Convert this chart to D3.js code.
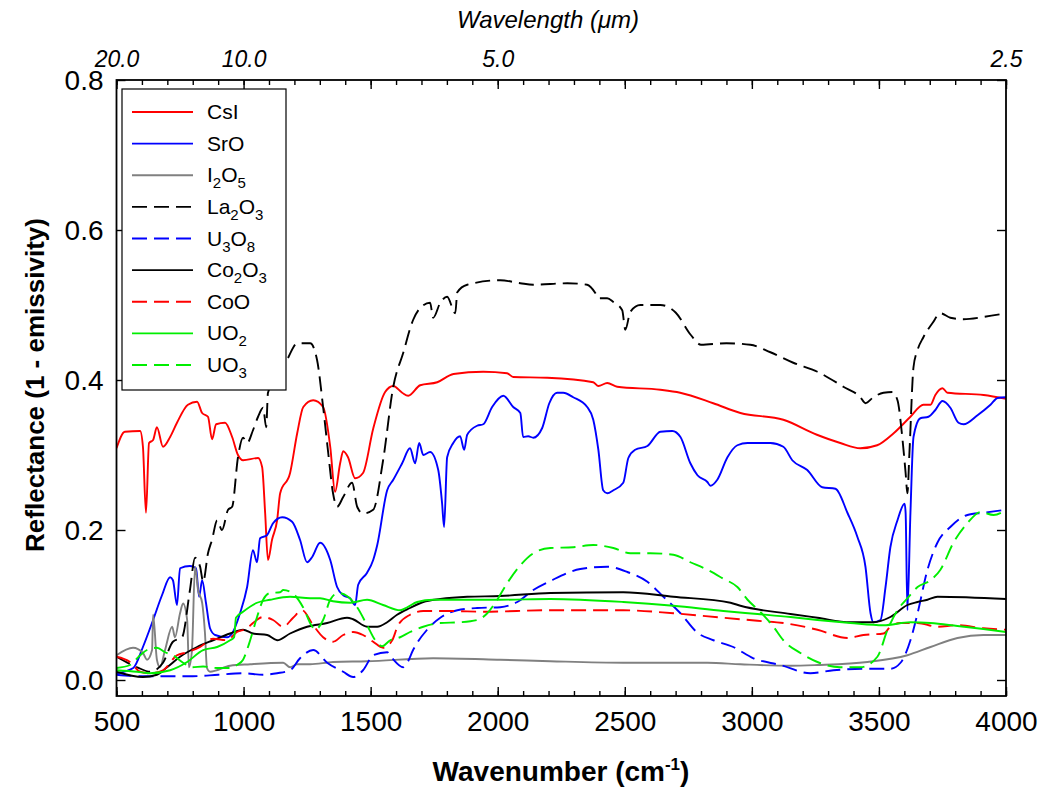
<!DOCTYPE html>
<html><head><meta charset="utf-8">
<script src="https://cdn.jsdelivr.net/npm/d3@7"></script>
<style>body{margin:0;background:#fff}svg{display:block}text{font-family:"Liberation Sans",Arial,sans-serif}</style>
</head><body>
<svg id="c" width="1041" height="790"></svg>
<script>
// ---- data: [wavenumber cm-1, reflectance] ----
const CsI = [[500,0.309],[533,0.331],[593,0.332],[604,0.311],[616,0.223],[628,0.316],[644,0.32],[659,0.337],[683,0.311],[711,0.324],[738,0.343],[781,0.367],[817,0.371],[837,0.356],[860,0.351],[876,0.321],[892,0.341],[927,0.343],[955,0.324],[978,0.30],[998,0.293],[1057,0.296],[1073,0.284],[1085,0.222],[1096,0.16],[1112,0.187],[1132,0.213],[1144,0.249],[1183,0.276],[1211,0.329],[1235,0.364],[1274,0.373],[1313,0.364],[1341,0.311],[1360,0.251],[1380,0.289],[1392,0.305],[1411,0.297],[1439,0.269],[1470,0.276],[1510,0.335],[1557,0.384],[1589,0.392],[1624,0.383],[1648,0.379],[1695,0.393],[1762,0.397],[1826,0.408],[1943,0.411],[2037,0.409],[2061,0.404],[2195,0.403],[2376,0.397],[2396,0.392],[2431,0.396],[2470,0.391],[2640,0.387],[2718,0.383],[2848,0.369],[2955,0.356],[3124,0.347],[3256,0.327],[3348,0.316],[3427,0.309],[3493,0.313],[3558,0.329],[3624,0.351],[3675,0.367],[3703,0.367],[3722,0.38],[3750,0.389],[3770,0.383],[3912,0.38],[4000,0.375]];
const SrO = [[500,0.009],[566,0.016],[604,0.044],[644,0.08],[679,0.113],[711,0.137],[722,0.133],[738,0.10],[750,0.149],[789,0.152],[813,0.149],[825,0.111],[837,0.133],[852,0.103],[868,0.069],[888,0.06],[935,0.057],[955,0.062],[986,0.089],[1014,0.124],[1037,0.173],[1053,0.157],[1065,0.189],[1092,0.193],[1116,0.209],[1152,0.217],[1191,0.211],[1222,0.187],[1250,0.157],[1270,0.164],[1301,0.183],[1341,0.16],[1368,0.124],[1392,0.113],[1419,0.109],[1439,0.1],[1451,0.127],[1486,0.143],[1510,0.16],[1526,0.18],[1565,0.253],[1589,0.267],[1624,0.289],[1655,0.309],[1675,0.289],[1691,0.316],[1707,0.3],[1734,0.304],[1766,0.28],[1781,0.236],[1789,0.204],[1801,0.297],[1825,0.316],[1852,0.325],[1868,0.307],[1880,0.327],[1919,0.339],[1943,0.341],[1978,0.364],[2022,0.379],[2061,0.364],[2089,0.356],[2100,0.324],[2120,0.325],[2140,0.323],[2175,0.336],[2203,0.369],[2234,0.383],[2258,0.383],[2297,0.377],[2352,0.364],[2376,0.347],[2396,0.307],[2415,0.253],[2431,0.249],[2455,0.253],[2494,0.263],[2514,0.296],[2541,0.307],[2589,0.312],[2640,0.331],[2687,0.332],[2719,0.324],[2758,0.289],[2786,0.273],[2825,0.264],[2837,0.259],[2864,0.267],[2904,0.297],[2943,0.313],[2983,0.316],[3073,0.316],[3124,0.311],[3159,0.293],[3218,0.28],[3277,0.257],[3329,0.255],[3376,0.223],[3415,0.191],[3447,0.151],[3467,0.089],[3478,0.077],[3506,0.08],[3526,0.124],[3545,0.177],[3573,0.213],[3601,0.235],[3605,0.223],[3612,0.093],[3624,0.223],[3636,0.324],[3663,0.349],[3695,0.351],[3722,0.36],[3750,0.372],[3781,0.363],[3813,0.343],[3833,0.341],[3888,0.353],[3939,0.367],[3967,0.376],[4000,0.377]];
const I2O5 = [[500,0.033],[565,0.043],[604,0.036],[620,0.027],[640,0.04],[644,0.087],[659,0.027],[671,0.017],[691,0.04],[719,0.071],[730,0.057],[750,0.089],[762,0.102],[778,0.08],[785,0.017],[797,0.04],[809,0.151],[821,0.12],[837,0.103],[848,0.063],[856,0.016],[868,0.011],[947,0.019],[1026,0.021],[1156,0.023],[1183,0.017],[1211,0.021],[1262,0.021],[1352,0.024],[1486,0.025],[1746,0.029],[2010,0.027],[2207,0.025],[2494,0.023],[2825,0.023],[2955,0.021],[3152,0.019],[3258,0.02],[3455,0.024],[3612,0.033],[3703,0.044],[3809,0.056],[3911,0.06],[4000,0.06]];
const La2O3 = [[500,0.031],[581,0.017],[632,0.011],[683,0.023],[722,0.051],[758,0.057],[789,0.12],[809,0.163],[829,0.151],[841,0.131],[860,0.169],[876,0.187],[896,0.213],[915,0.2],[939,0.227],[955,0.231],[978,0.297],[998,0.323],[1014,0.316],[1037,0.333],[1057,0.351],[1077,0.363],[1089,0.337],[1096,0.383],[1171,0.427],[1211,0.449],[1262,0.449],[1289,0.427],[1313,0.364],[1333,0.303],[1352,0.249],[1368,0.231],[1392,0.244],[1427,0.263],[1447,0.231],[1470,0.222],[1510,0.227],[1549,0.293],[1589,0.391],[1628,0.436],[1667,0.48],[1695,0.496],[1734,0.503],[1746,0.483],[1774,0.503],[1801,0.511],[1833,0.489],[1841,0.517],[1880,0.527],[2010,0.533],[2089,0.529],[2140,0.527],[2274,0.529],[2352,0.527],[2384,0.516],[2396,0.509],[2431,0.509],[2455,0.504],[2490,0.493],[2502,0.467],[2522,0.491],[2561,0.5],[2640,0.5],[2700,0.49],[2760,0.46],[2800,0.447],[2900,0.449],[2994,0.447],[3073,0.437],[3163,0.423],[3258,0.411],[3360,0.391],[3427,0.377],[3447,0.369],[3478,0.377],[3518,0.383],[3553,0.384],[3573,0.373],[3593,0.32],[3605,0.276],[3612,0.249],[3620,0.303],[3636,0.417],[3652,0.44],[3675,0.457],[3711,0.476],[3742,0.489],[3781,0.483],[3833,0.481],[3911,0.484],[4000,0.489]];
const U3O8 = [[500,0.007],[600,0.005],[700,0.005],[800,0.005],[900,0.007],[998,0.009],[1077,0.007],[1132,0.009],[1183,0.013],[1222,0.029],[1274,0.04],[1329,0.023],[1392,0.011],[1431,0.004],[1470,0.013],[1510,0.033],[1565,0.037],[1585,0.029],[1628,0.017],[1644,0.023],[1667,0.04],[1722,0.067],[1774,0.083],[1841,0.093],[1919,0.096],[2010,0.097],[2077,0.104],[2140,0.12],[2207,0.132],[2325,0.148],[2431,0.151],[2510,0.144],[2589,0.131],[2652,0.111],[2719,0.089],[2786,0.063],[2849,0.053],[2927,0.044],[3006,0.029],[3112,0.02],[3230,0.009],[3321,0.013],[3455,0.015],[3545,0.015],[3585,0.023],[3624,0.053],[3652,0.089],[3691,0.147],[3730,0.183],[3781,0.204],[3848,0.22],[3911,0.223],[4000,0.227]];
const Co2O3 = [[500,0.011],[604,0.004],[659,0.007],[699,0.017],[750,0.031],[817,0.044],[880,0.053],[947,0.062],[998,0.067],[1037,0.062],[1093,0.06],[1132,0.053],[1183,0.062],[1250,0.071],[1329,0.076],[1407,0.083],[1431,0.081],[1486,0.071],[1526,0.071],[1565,0.077],[1604,0.087],[1655,0.096],[1707,0.104],[1774,0.108],[1880,0.111],[2010,0.112],[2207,0.116],[2494,0.117],[2691,0.111],[2916,0.103],[2955,0.099],[3152,0.088],[3258,0.083],[3388,0.077],[3478,0.077],[3545,0.084],[3612,0.1],[3652,0.104],[3691,0.107],[3730,0.111],[4000,0.108]];
const CoO = [[500,0.031],[553,0.024],[593,0.011],[632,0.009],[683,0.013],[738,0.033],[778,0.037],[829,0.044],[880,0.055],[935,0.053],[974,0.064],[1014,0.069],[1037,0.076],[1077,0.084],[1116,0.08],[1156,0.071],[1195,0.083],[1230,0.093],[1274,0.073],[1313,0.057],[1352,0.051],[1392,0.06],[1431,0.064],[1470,0.06],[1510,0.051],[1549,0.043],[1585,0.053],[1608,0.073],[1655,0.087],[1707,0.092],[1813,0.092],[1943,0.091],[2207,0.093],[2494,0.093],[2691,0.089],[2888,0.083],[3022,0.079],[3124,0.076],[3258,0.067],[3376,0.056],[3439,0.06],[3518,0.062],[3545,0.071],[3585,0.076],[3652,0.076],[3730,0.071],[3809,0.073],[3911,0.069],[4000,0.067]];
const UO2 = [[500,0.013],[581,0.011],[632,0.009],[711,0.013],[778,0.024],[841,0.04],[896,0.044],[947,0.053],[963,0.057],[970,0.083],[998,0.091],[1053,0.103],[1104,0.107],[1183,0.111],[1262,0.109],[1301,0.109],[1352,0.105],[1419,0.103],[1486,0.107],[1549,0.1],[1616,0.093],[1644,0.097],[1683,0.104],[1746,0.107],[2010,0.107],[2207,0.108],[2494,0.104],[2691,0.099],[2888,0.092],[3022,0.088],[3152,0.084],[3258,0.08],[3388,0.076],[3518,0.073],[3624,0.077],[3703,0.076],[3809,0.072],[3911,0.068],[4000,0.064]];
const UO3 = [[500,0.016],[553,0.02],[593,0.033],[620,0.04],[659,0.043],[691,0.037],[722,0.033],[762,0.023],[797,0.017],[841,0.018],[896,0.016],[947,0.016],[974,0.02],[998,0.027],[1026,0.053],[1053,0.084],[1077,0.107],[1104,0.116],[1144,0.117],[1156,0.12],[1195,0.115],[1234,0.097],[1270,0.071],[1281,0.067],[1313,0.08],[1341,0.107],[1372,0.116],[1407,0.112],[1447,0.097],[1486,0.073],[1518,0.053],[1545,0.045],[1577,0.053],[1616,0.057],[1655,0.064],[1707,0.071],[1774,0.076],[1852,0.077],[1919,0.08],[1959,0.089],[1998,0.107],[2037,0.129],[2089,0.153],[2140,0.169],[2207,0.176],[2297,0.177],[2376,0.18],[2455,0.176],[2522,0.169],[2600,0.169],[2691,0.167],[2758,0.157],[2825,0.147],[2888,0.135],[2943,0.124],[2983,0.107],[3033,0.091],[3085,0.071],[3124,0.053],[3191,0.036],[3258,0.024],[3348,0.017],[3427,0.017],[3494,0.031],[3534,0.067],[3573,0.093],[3612,0.109],[3652,0.124],[3703,0.133],[3742,0.147],[3793,0.183],[3848,0.209],[3900,0.224],[3951,0.22],[4000,0.227]];

const seriesNames = ["CsI","SrO","I2O5","La2O3","U3O8","Co2O3","CoO","UO2","UO3"];
const seriesData = [CsI,SrO,I2O5,La2O3,U3O8,Co2O3,CoO,UO2,UO3];
// legend label parts: [text, isSubscript]
const seriesLabels = [
  [["CsI",0]], [["SrO",0]], [["I",0],["2",1],["O",0],["5",1]],
  [["La",0],["2",1],["O",0],["3",1]], [["U",0],["3",1],["O",0],["8",1]],
  [["Co",0],["2",1],["O",0],["3",1]], [["CoO",0]],
  [["UO",0],["2",1]], [["UO",0],["3",1]]
];
const seriesColors = ["#ff0000","#0000ff","#808080","#000000","#0000ff","#000000","#ff0000","#00ee00","#00ee00"];
const seriesDashed = [false,false,false,true,true,false,true,false,true];
const xTicks = [500,1000,1500,2000,2500,3000,3500,4000];
const yTicks = [0.0,0.2,0.4,0.6,0.8];
const topLabelWn = [500,1000,2000,4000];

// ---- layout ----
const L = 116.5, R = 1006, T = 80, B = 696;
const x = d3.scaleLinear().domain([500,4000]).range([L,R]);
const y = d3.scaleLinear().domain([-0.02133,0.8]).range([B,T]);
const svg = d3.select("#c");
const DASH = "15,7";

svg.append("defs").append("clipPath").attr("id","clip")
  .append("rect").attr("x",L).attr("y",T).attr("width",R-L).attr("height",B-T);

const line = d3.line().x(d=>x(d[0])).y(d=>y(d[1])).curve(d3.curveMonotoneX);
const plot = svg.append("g").attr("clip-path","url(#clip)");
seriesData.forEach((s,i)=>{
  plot.append("path").attr("d",line(s)).attr("fill","none")
    .attr("stroke",seriesColors[i]).attr("stroke-width",1.9)
    .attr("stroke-linejoin","round")
    .attr("stroke-dasharray",seriesDashed[i]?DASH:null);
});

// ---- axes ----
const minor = d3.range(500,4001,100);
const gB = svg.append("g").attr("transform",`translate(0,${B})`)
  .call(d3.axisBottom(x).tickValues(xTicks).tickSize(-9).tickPadding(15).tickFormat(d3.format("d")));
const gBm = svg.append("g").attr("transform",`translate(0,${B})`)
  .call(d3.axisBottom(x).tickValues(minor).tickSize(-5).tickFormat(""));
const gT = svg.append("g").attr("transform",`translate(0,${T})`)
  .call(d3.axisTop(x).tickValues(xTicks).tickSize(-9).tickFormat(""));
const gTm = svg.append("g").attr("transform",`translate(0,${T})`)
  .call(d3.axisTop(x).tickValues(minor).tickSize(-5).tickFormat(""));
const gTl = svg.append("g").attr("transform",`translate(0,${T})`)
  .call(d3.axisTop(x).tickValues(topLabelWn).tickSize(0).tickPadding(13).tickFormat(d=>(10000/d).toFixed(1)));
const gL = svg.append("g").attr("transform",`translate(${L},0)`)
  .call(d3.axisLeft(y).tickValues(yTicks).tickSize(-9).tickPadding(13).tickFormat(d3.format(".1f")));
const gR = svg.append("g").attr("transform",`translate(${R},0)`)
  .call(d3.axisRight(y).tickValues(yTicks).tickSize(-9).tickFormat(""));
[gB,gBm,gT,gTm,gTl,gL,gR].forEach(g=>{
  g.select(".domain").remove();
  g.selectAll("line").attr("stroke","#000").attr("stroke-width",1.4);
  g.selectAll("text").attr("fill","#000").style("font-family","'Liberation Sans',Arial,sans-serif");
});
gB.selectAll("text").style("font-size","28px");
gL.selectAll("text").style("font-size","28px").attr("dy","0.35em");
gTl.selectAll("text").style("font-size","23px").style("font-style","italic");

svg.append("rect").attr("x",L).attr("y",T).attr("width",R-L).attr("height",B-T)
  .attr("fill","none").attr("stroke","#000").attr("stroke-width",1.8);

// ---- titles ----
const bt = svg.append("text").attr("x",561).attr("y",781).attr("text-anchor","middle")
  .style("font-size","28px").style("font-weight","bold");
bt.append("tspan").text("Wavenumber (cm");
bt.append("tspan").text("-1").attr("dy",-11).style("font-size","17px");
bt.append("tspan").text(")").attr("dy",11);

svg.append("text").attr("transform","translate(44,385) rotate(-90)").attr("text-anchor","middle")
  .style("font-size","26px").style("font-weight","bold").text("Reflectance (1 - emissivity)");

svg.append("text").attr("x",548).attr("y",28).attr("text-anchor","middle")
  .style("font-size","24px").style("font-style","italic").text("Wavelength (\u03bcm)");

// ---- legend ----
const lg = svg.append("g");
lg.append("rect").attr("x",122).attr("y",89).attr("width",164).attr("height",301)
  .attr("fill","#fff").attr("stroke","#000").attr("stroke-width",1.2);
const ly = d3.scaleLinear().domain([0,8]).range([112,365]);
seriesNames.forEach((n,i)=>{
  const yy = ly(i);
  lg.append("line").attr("x1",132).attr("x2",193).attr("y1",yy).attr("y2",yy)
    .attr("stroke",seriesColors[i]).attr("stroke-width",1.9)
    .attr("stroke-dasharray",seriesDashed[i]?DASH:null);
  const t = lg.append("text").attr("x",207).attr("y",yy+7).style("font-size","21px");
  let sub = false;
  seriesLabels[i].forEach(([s,isSub])=>{
    const ts = t.append("tspan").text(s);
    if(isSub && !sub){ ts.attr("dy",6).style("font-size","15px"); sub=true; }
    else if(isSub){ ts.style("font-size","15px"); }
    else if(!isSub && sub){ ts.attr("dy",-6); sub=false; }
  });
});
</script>
</body></html>
